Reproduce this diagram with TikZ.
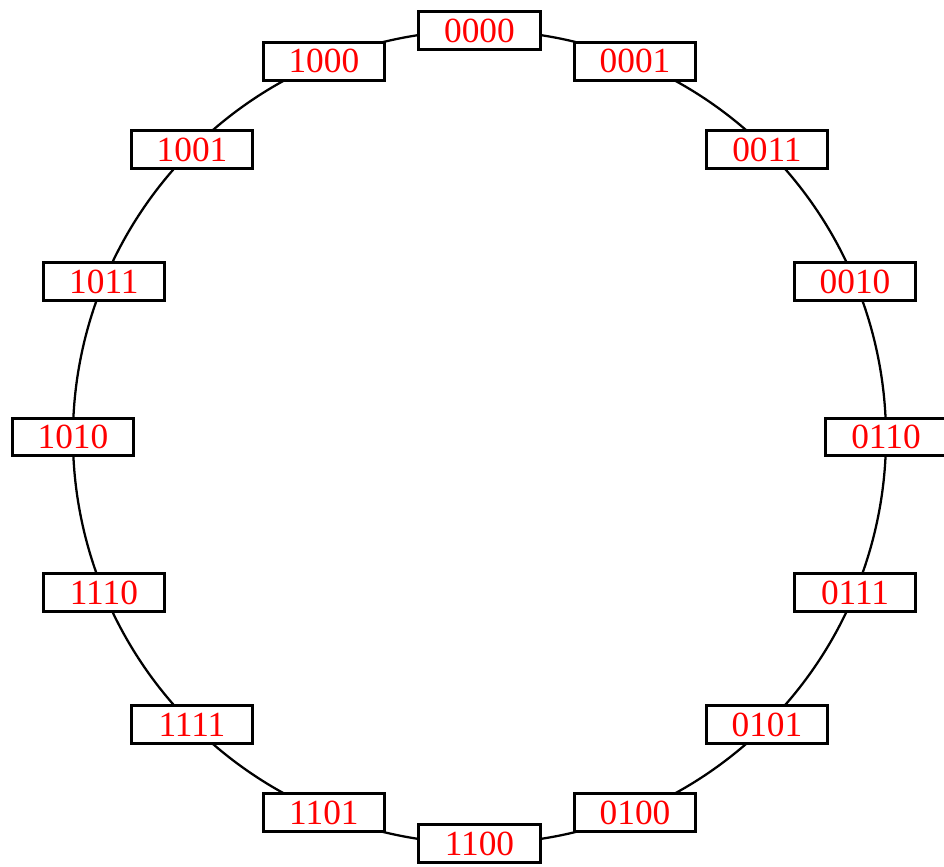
\documentclass[tikz,border=0pt]{standalone}
\usepackage{fontspec}
\setmainfont{Liberation Serif}
\usetikzlibrary{positioning,backgrounds}

\begin{document}
\begin{tikzpicture}[
    code/.style={rectangle, minimum width=91pt, minimum height=28pt, inner sep=0pt, text centered, draw=black, line width=2.2pt, fill=white, text=red, font=\fontsize{26.5}{30}\selectfont},
    ring/.style={line width=1.7pt}
]
\useasboundingbox (-359.6pt,-321.75pt) rectangle (348.4pt,327.75pt);

% Gray code words, clockwise from the top
\node (g0000) [code] at (90:304.9pt) {0000};
\node (g0001) [code] at (67.5:304.9pt) {0001};
\node (g0011) [code] at (45:304.9pt) {0011};
\node (g0010) [code] at (22.5:304.9pt) {0010};
\node (g0110) [code] at (0:304.9pt) {0110};
\node (g0111) [code] at (-22.5:304.9pt) {0111};
\node (g0101) [code] at (-45:304.9pt) {0101};
\node (g0100) [code] at (-67.5:304.9pt) {0100};
\node (g1100) [code] at (-90:304.9pt) {1100};
\node (g1101) [code] at (-112.5:304.9pt) {1101};
\node (g1111) [code] at (-135:304.9pt) {1111};
\node (g1110) [code] at (-157.5:304.9pt) {1110};
\node (g1010) [code] at (180:304.9pt) {1010};
\node (g1011) [code] at (157.5:304.9pt) {1011};
\node (g1001) [code] at (135:304.9pt) {1001};
\node (g1000) [code] at (112.5:304.9pt) {1000};

% Ring, behind the boxes
\begin{scope}[on background layer, radius=304.9pt]
\draw[ring] (g0000.center) arc[start angle=90, delta angle=-22.5] -- (g0001.center);
\draw[ring] (g0001.center) arc[start angle=67.5, delta angle=-22.5] -- (g0011.center);
\draw[ring] (g0011.center) arc[start angle=45, delta angle=-22.5] -- (g0010.center);
\draw[ring] (g0010.center) arc[start angle=22.5, delta angle=-22.5] -- (g0110.center);
\draw[ring] (g0110.center) arc[start angle=0, delta angle=-22.5] -- (g0111.center);
\draw[ring] (g0111.center) arc[start angle=-22.5, delta angle=-22.5] -- (g0101.center);
\draw[ring] (g0101.center) arc[start angle=-45, delta angle=-22.5] -- (g0100.center);
\draw[ring] (g0100.center) arc[start angle=-67.5, delta angle=-22.5] -- (g1100.center);
\draw[ring] (g1100.center) arc[start angle=-90, delta angle=-22.5] -- (g1101.center);
\draw[ring] (g1101.center) arc[start angle=-112.5, delta angle=-22.5] -- (g1111.center);
\draw[ring] (g1111.center) arc[start angle=-135, delta angle=-22.5] -- (g1110.center);
\draw[ring] (g1110.center) arc[start angle=-157.5, delta angle=-22.5] -- (g1010.center);
\draw[ring] (g1010.center) arc[start angle=180, delta angle=-22.5] -- (g1011.center);
\draw[ring] (g1011.center) arc[start angle=157.5, delta angle=-22.5] -- (g1001.center);
\draw[ring] (g1001.center) arc[start angle=135, delta angle=-22.5] -- (g1000.center);
\draw[ring] (g1000.center) arc[start angle=112.5, delta angle=-22.5] -- (g0000.center);
\end{scope}

\end{tikzpicture}
\end{document}
